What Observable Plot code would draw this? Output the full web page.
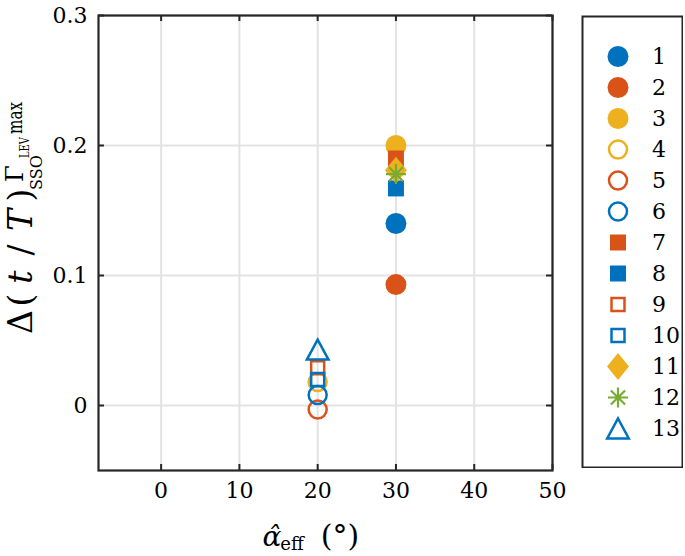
<!DOCTYPE html>
<html><head><meta charset="utf-8">
<script src="https://cdn.jsdelivr.net/npm/d3@7"></script>
<script src="https://cdn.jsdelivr.net/npm/@observablehq/plot@0.6"></script>
<style>
body{margin:0;background:#fff;}
#wrap{position:relative;width:685px;height:556px;overflow:hidden;}
#wrap svg{position:absolute;}
#wrap svg text{font-family:"DejaVu Serif";}
</style></head><body><div id="wrap"></div>
<script>
// ---- data ----
const seriesLabels = ["1","2","3","4","5","6","7","8","9","10","11","12","13"];
const alphaEff = [30, 30, 30, 20, 20, 20, 30, 30, 20, 20, 30, 30, 20];
const deltaT   = [0.14, 0.093, 0.2, 0.018, -0.003, 0.008, 0.19, 0.167, 0.029, 0.02, 0.181, 0.178, 0.043];
const xTicks = [0, 10, 20, 30, 40, 50];
const yTicks = [0, 0.1, 0.2, 0.3];

// ---- styles ----
const C = {blue: "#0072BD", orange: "#D95319", yellow: "#EDB120", green: "#77AC30"};
const seriesStyle = [
  {shape: "circle", color: C.blue, filled: true, r: 10.5},
  {shape: "circle", color: C.orange, filled: true, r: 10.5},
  {shape: "circle", color: C.yellow, filled: true, r: 10.5},
  {shape: "circle", color: C.yellow, filled: false, r: 9},
  {shape: "circle", color: C.orange, filled: false, r: 9},
  {shape: "circle", color: C.blue, filled: false, r: 9},
  {shape: "square", color: C.orange, filled: true, r: 8},
  {shape: "square", color: C.blue, filled: true, r: 8},
  {shape: "square", color: C.orange, filled: false, r: 6.5},
  {shape: "square", color: C.blue, filled: false, r: 6.5},
  {shape: "diamond", color: C.yellow, filled: true, r: 11},
  {shape: "asterisk", color: C.green, filled: false, r: 10},
  {shape: "triangle", color: C.blue, filled: false, r: 10}
];
const SERIF = "DejaVu Serif";
const AX = "#262626";

function makeSymbol(kind) {
  return {
    draw(ctx, size) {
      const R = Math.sqrt(size / Math.PI);
      if (kind === "circle") { ctx.moveTo(R, 0); ctx.arc(0, 0, R, 0, 2 * Math.PI); }
      else if (kind === "square") { ctx.moveTo(-R, -R); ctx.lineTo(R, -R); ctx.lineTo(R, R); ctx.lineTo(-R, R); ctx.closePath(); }
      else if (kind === "diamond") { ctx.moveTo(0, -1.22 * R); ctx.lineTo(R, 0); ctx.lineTo(0, 1.22 * R); ctx.lineTo(-R, 0); ctx.closePath(); }
      else if (kind === "asterisk") {
        for (const a of [0, 45, 90, 135]) {
          const t = a * Math.PI / 180, c = Math.cos(t) * R, s = Math.sin(t) * R;
          ctx.moveTo(-c, -s); ctx.lineTo(c, s);
        }
      }
      else if (kind === "triangle") { ctx.moveTo(0, -R); ctx.lineTo(1.08 * R, R); ctx.lineTo(-1.08 * R, R); ctx.closePath(); }
    }
  };
}
function dotOpts(st, extra) {
  return Object.assign({
    symbol: makeSymbol(st.shape), r: st.r,
    fill: st.filled ? st.color : "none",
    stroke: st.filled ? "none" : st.color,
    strokeWidth: st.shape === "asterisk" ? 2.2 : 2.5,
    strokeLinejoin: "miter"
  }, extra);
}

// ---- main chart ----
const W = 685, H = 556, mL = 98, mR = 133, mT = 15, mB = 86;
const pw = W - mL - mR, ph = H - mT - mB;
const seriesIdx = seriesLabels.map((_, i) => i);

const dotMarks = seriesIdx.map(i => Plot.dot([i], dotOpts(seriesStyle[i], {x: j => alphaEff[j], y: j => deltaT[j]})));

const chart = Plot.plot({
  width: W, height: H,
  marginLeft: mL, marginRight: mR, marginTop: mT, marginBottom: mB,
  style: {fontFamily: SERIF, fontSize: "22px", color: "#000", background: "transparent"},
  x: {domain: [-8, 50]},
  y: {domain: [-0.05, 0.3]},
  marks: [
    Plot.gridX(xTicks, {stroke: "#e3e3e3", strokeOpacity: 1, strokeWidth: 2}),
    Plot.gridY(yTicks, {stroke: "#e3e3e3", strokeOpacity: 1, strokeWidth: 2}),
    Plot.ruleX(xTicks, {stroke: AX, strokeWidth: 2, insetTop: ph - 6}),
    Plot.ruleX(xTicks, {stroke: AX, strokeWidth: 2, insetBottom: ph - 6}),
    Plot.ruleY(yTicks, {stroke: AX, strokeWidth: 2, insetRight: pw - 6}),
    Plot.ruleY(yTicks, {stroke: AX, strokeWidth: 2, insetLeft: pw - 6}),
    Plot.axisX(xTicks, {tickSize: 0, tickPadding: 12, label: null, fill: "#000", fontSize: 22}),
    Plot.axisY(yTicks, {tickSize: 0, tickPadding: 11, label: null, fill: "#000", fontSize: 22, tickFormat: d => String(d)}),
    ...dotMarks,
    Plot.frame({stroke: AX, strokeWidth: 2.2})
  ]
});
chart.style.left = "0px"; chart.style.top = "0px";

// axis labels (rich text)
const svg = d3.select(chart);
const g = svg.append("g").attr("fill", "#000");
function rot(x, y, size, anchor) {
  return g.append("text").attr("transform", `translate(${x},${y}) rotate(-90)`)
    .attr("font-size", size).attr("text-anchor", anchor || "start");
}
{
  const glyphs = [["Δ", 322, false], ["(", 300, false], ["t", 277, true], ["/", 250, false], ["T", 220, true], [")", 195, false]];
  for (const [ch, yc, it] of glyphs) {
    const t = rot(32, yc, 33, "middle").text(ch);
    if (it) t.attr("font-style", "italic");
  }
  rot(23, 182, 24).text("Γ");
  rot(29, 158, 12).attr("textLength", 21).attr("lengthAdjust", "spacingAndGlyphs").text("LEV");
  rot(22, 134, 20).attr("textLength", 32).attr("lengthAdjust", "spacingAndGlyphs").text("max");
  rot(42, 190, 16).text("SSO");
}
{
  g.append("text").attr("x", 272).attr("y", 546).attr("font-size", 28).attr("font-style", "italic").text("α\u0302");
  g.append("text").attr("x", 292).attr("y", 550).attr("font-size", 18).text("eff");
  g.append("text").attr("x", 340).attr("y", 546).attr("font-size", 30).text("(°)");
}

// ---- legend ----
const LW = 102, LH = 453;
const legendMarks = seriesIdx.map(i => Plot.dot([seriesLabels[i]], dotOpts(seriesStyle[i], {y: d => d, frameAnchor: "left", dx: 35.5})));
const legend = Plot.plot({
  width: LW, height: LH,
  marginLeft: 1, marginRight: 1, marginTop: 1, marginBottom: 1,
  style: {fontFamily: SERIF, fontSize: "22px", background: "transparent"},
  y: {type: "point", domain: seriesLabels, inset: 21, axis: null},
  marks: [
    ...legendMarks,
    Plot.text(seriesLabels, {y: d => d, text: d => d, frameAnchor: "left", dx: 69.5, textAnchor: "start", fill: "#000", fontSize: 22}),
    Plot.frame({stroke: AX, strokeWidth: 2})
  ]
});
legend.style.left = "581px"; legend.style.top = "14.7px";

const wrap = document.getElementById("wrap");
wrap.appendChild(chart);
wrap.appendChild(legend);
</script></body></html>
